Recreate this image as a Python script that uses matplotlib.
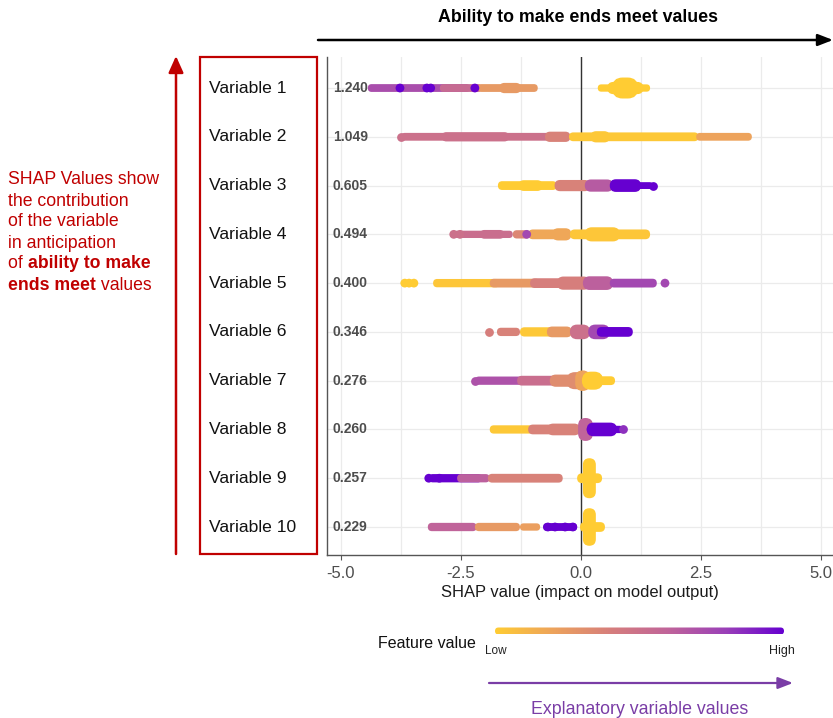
import matplotlib
matplotlib.use("Agg")
import numpy as np
import matplotlib.pyplot as plt
from matplotlib.colors import LinearSegmentedColormap
from matplotlib.patches import FancyBboxPatch, Rectangle
from matplotlib.transforms import blended_transform_factory

plt.rcParams['font.family'] = ['Liberation Sans', 'DejaVu Sans']

# ---------------- data ----------------
variables = ["Variable 1", "Variable 2", "Variable 3", "Variable 4", "Variable 5",
             "Variable 6", "Variable 7", "Variable 8", "Variable 9", "Variable 10"]
mean_abs_shap = ["1.240", "1.049", "0.605", "0.494", "0.400",
                 "0.346", "0.276", "0.260", "0.257", "0.229"]
x_ticks = [-5.0, -2.5, 0.0, 2.5, 5.0]
x_tick_labels = ["-5.0", "-2.5", "0.0", "2.5", "5.0"]

# dense runs of points: (shap_start, shap_end, feature_value 0..1, spread in rows)
var1_segments = [(-4.44, -2.31, 0.72, 0.16), (-2.94, -2.06, 0.55, 0.16),
                 (-2.15, -0.90, 0.25, 0.16), (-1.70, -1.25, 0.25, 0.21),
                 (0.35, 1.44, 0.00, 0.15), (0.55, 1.30, 0.00, 0.25),
                 (0.65, 1.19, 0.00, 0.43)]
var2_segments = [(-3.75, -0.55, 0.50, 0.16), (-2.90, -1.50, 0.50, 0.19),
                 (-0.75, -0.22, 0.38, 0.21), (-0.25, 2.45, 0.02, 0.18),
                 (0.20, 0.60, 0.02, 0.23), (2.40, 3.56, 0.20, 0.16)]
var3_segments = [(-1.73, -0.50, 0.00, 0.18), (-1.30, -0.80, 0.00, 0.22),
                 (-0.55, 0.19, 0.38, 0.23), (0.08, 0.67, 0.65, 0.25),
                 (0.60, 1.25, 1.00, 0.26), (1.10, 1.50, 1.00, 0.14)]
var4_segments = [(-2.65, -1.42, 0.52, 0.15), (-2.10, -1.60, 0.52, 0.18),
                 (-1.42, -1.06, 0.35, 0.17), (-1.10, -0.23, 0.18, 0.20),
                 (-0.60, -0.20, 0.18, 0.25), (-0.23, 1.44, 0.03, 0.20),
                 (0.08, 0.81, 0.03, 0.29)]
var5_segments = [(-3.08, -1.69, 0.03, 0.17), (-1.90, -0.85, 0.25, 0.18),
                 (-1.06, -0.08, 0.40, 0.20), (-0.50, 0.19, 0.40, 0.27),
                 (0.04, 0.67, 0.62, 0.28), (0.60, 1.58, 0.75, 0.18)]
var6_segments = [(-1.75, -1.27, 0.38, 0.17), (-1.27, -0.50, 0.02, 0.19),
                 (-0.71, -0.19, 0.25, 0.22), (-0.23, 0.19, 0.50, 0.30),
                 (0.15, 0.60, 0.75, 0.30), (0.33, 1.08, 1.00, 0.20)]
var7_segments = [(-2.21, -1.00, 0.70, 0.17), (-1.33, -0.44, 0.52, 0.20),
                 (-0.65, -0.02, 0.32, 0.25), (-0.30, 0.10, 0.32, 0.35),
                 (-0.12, 0.19, 0.20, 0.42), (0.02, 0.71, 0.00, 0.18),
                 (0.02, 0.46, 0.00, 0.37)]
var8_segments = [(-1.90, -1.00, 0.02, 0.17), (-1.10, -0.02, 0.38, 0.20),
                 (-0.70, -0.02, 0.38, 0.24), (-0.06, 0.25, 0.60, 0.47),
                 (0.12, 0.88, 1.00, 0.15), (0.12, 0.75, 1.00, 0.28)]
var9_segments = [(-3.17, -2.06, 1.00, 0.17), (-2.58, -1.90, 0.62, 0.17),
                 (-1.94, -0.38, 0.38, 0.18), (-0.08, 0.44, 0.00, 0.20),
                 (0.04, 0.31, 0.00, 0.82)]
var10_segments = [(-3.19, -2.17, 0.60, 0.17), (-2.21, -1.27, 0.25, 0.17),
                  (-1.27, -0.85, 0.22, 0.15), (-0.79, -0.08, 1.00, 0.16),
                  (-0.02, 0.50, 0.00, 0.20), (0.04, 0.31, 0.00, 0.77)]
segments = [var1_segments, var2_segments, var3_segments, var4_segments, var5_segments,
            var6_segments, var7_segments, var8_segments, var9_segments, var10_segments]

# isolated visible points: (shap, feature_value)
var1_dots = [(-3.77, 1.0), (-3.21, 1.0), (-3.13, 1.0), (-2.21, 1.0)]
var2_dots = [(-3.75, 0.5)]
var3_dots = [(1.50, 1.0)]
var4_dots = [(-2.65, 0.5), (-2.52, 0.5), (-1.13, 0.75)]
var5_dots = [(-3.67, 0.0), (-3.58, 0.0), (-3.48, 0.0), (1.75, 0.75)]
var6_dots = [(-1.92, 0.4)]
var7_dots = [(-2.21, 0.7)]
var8_dots = [(0.88, 0.85)]
var9_dots = [(-3.17, 1.0), (-2.95, 1.0)]
var10_dots = [(-0.69, 1.0), (-0.54, 1.0), (-0.33, 1.0), (-0.17, 1.0)]
dots = [var1_dots, var2_dots, var3_dots, var4_dots, var5_dots,
        var6_dots, var7_dots, var8_dots, var9_dots, var10_dots]

cmap_colors = ["#FFCC33", "#EDA35C", "#D67E7C", "#C0649A", "#9A40B8", "#6600D0"]
cmap = LinearSegmentedColormap.from_list("shap", cmap_colors)

# ---------------- figure ----------------
W, H = 833, 718
fig = plt.figure(figsize=(W / 100, H / 100), dpi=100)

def fx(px):
    return px / W

def fy(py):
    return 1 - py / H

ax = fig.add_axes([fx(327), fy(555), fx(833) - fx(327), fy(57) - fy(555)])
ax.set_xlim(-5.29, 5.25)
ax.set_ylim(10.574, 0.364)

ax.set_xticks(x_ticks)
ax.set_xticklabels(x_tick_labels)
ax.set_xticks([-3.75, -1.25, 1.25, 3.75], minor=True)
ax.set_yticks(range(1, len(variables) + 1))
ax.set_yticklabels([])
ax.tick_params(axis='y', length=0)
ax.tick_params(axis='x', which='major', length=3.5, width=0.8, color='#555555',
               labelsize=12, labelcolor='#4D4D4D', pad=4.5)
ax.tick_params(axis='x', which='minor', length=0)
ax.grid(True, which='both', color='#EBEBEB', lw=0.9)
ax.set_axisbelow(True)
for s in ['top', 'right']:
    ax.spines[s].set_visible(False)
for s in ['left', 'bottom']:
    ax.spines[s].set_color('#555555')
    ax.spines[s].set_linewidth(1.0)

ax.axvline(0, color='#333333', lw=1.0, zorder=1)

for i, (segs, pts) in enumerate(zip(segments, dots)):
    y = i + 1
    for (x0, x1, v, h) in segs:
        w = x1 - x0
        r = min(w, h) / 2
        p = FancyBboxPatch((x0, y - h / 2), w, h,
                           boxstyle=f"round,pad=0,rounding_size={r}",
                           facecolor=cmap(v), edgecolor='none', zorder=3)
        ax.add_patch(p)
    if pts:
        ax.scatter([p[0] for p in pts], [y] * len(pts), c=[cmap(p[1]) for p in pts],
                   s=40, linewidths=0, zorder=4)
    ax.text(-5.17, y, mean_abs_shap[i], fontsize=10, fontweight='bold',
            color='#4D4D4D', va='center', ha='left', zorder=5)

ax.set_xlabel("SHAP value (impact on model output)", fontsize=11.9, color='#1A1A1A',
              labelpad=3)

# variable names in a red box
blend = blended_transform_factory(fig.transFigure, ax.transData)
for i, name in enumerate(variables):
    ax.text(fx(209), i + 1, name, transform=blend, fontsize=12.6, color='#111111',
            va='center', ha='left', clip_on=False)

# overlay in pixel coords
ov = fig.add_axes([0, 0, 1, 1], zorder=-1)
ov.set_xlim(0, W)
ov.set_ylim(H, 0)
ov.axis('off')
ov.patch.set_alpha(0)

red = '#C00000'
ov.add_patch(Rectangle((200, 57), 117, 497, fill=False, edgecolor=red, lw=1.6))
ov.annotate("", xy=(176, 56), xytext=(176, 554),
            arrowprops=dict(arrowstyle='-|>,head_length=1.0,head_width=0.45',
                            color=red, lw=1.8, shrinkA=0, shrinkB=0))

red_lines = ["SHAP Values show", "the contribution", "of the variable", "in anticipation"]
red_fs = 12.7
y0 = 180
for k, t in enumerate(red_lines):
    ov.text(8, y0 + 21 * k, t, color=red, fontsize=red_fs, va='center', ha='left')
t1 = ov.text(8, y0 + 21 * 4, "of ", color=red, fontsize=red_fs, va='center', ha='left')
ov.annotate("ability to make", xycoords=t1, xy=(1, 0.5), va='center', ha='left',
            color=red, fontsize=red_fs, fontweight='bold')
t2 = ov.text(8, y0 + 21 * 5, "ends meet", color=red, fontsize=red_fs, va='center',
             ha='left', fontweight='bold')
ov.annotate(" values", xycoords=t2, xy=(1, 0.5), va='center', ha='left',
            color=red, fontsize=red_fs)

# top title and arrow
ov.text(578, 17, "Ability to make ends meet values", fontsize=12.8, fontweight='bold',
        ha='center', va='center', color='black')
ov.annotate("", xy=(833, 40), xytext=(318, 40),
            arrowprops=dict(arrowstyle='-|>,head_length=0.9,head_width=0.35',
                            color='black', lw=1.8, shrinkA=0, shrinkB=0))

# feature value legend
ov.text(378, 644, "Feature value", fontsize=11.5, ha='left', va='center', color='#111111')
grad = np.linspace(0, 1, 256).reshape(1, -1)
im = ov.imshow(grad, cmap=cmap, extent=[495, 784, 634.5, 627.5], aspect='auto',
               interpolation='bilinear', zorder=2)
clip = FancyBboxPatch((495, 627.5), 289, 7, boxstyle="round,pad=0,rounding_size=3.5",
                      transform=ov.transData, facecolor='none', edgecolor='none')
ov.add_patch(clip)
im.set_clip_path(clip)
ov.set_xlim(0, W)
ov.set_ylim(H, 0)
ov.text(485, 651, "Low", fontsize=8.5, ha='left', va='center', color='#222222')
ov.text(795, 651, "High", fontsize=9, ha='right', va='center', color='#222222')

purple = '#7A3DA6'
ov.annotate("", xy=(793, 683), xytext=(489, 683),
            arrowprops=dict(arrowstyle='-|>,head_length=0.9,head_width=0.35',
                            color=purple, lw=1.6, shrinkA=0, shrinkB=0))
ov.text(640, 709, "Explanatory variable values", fontsize=12.8, ha='center', va='center',
        color=purple)

fig.savefig("out.png", dpi=100)
